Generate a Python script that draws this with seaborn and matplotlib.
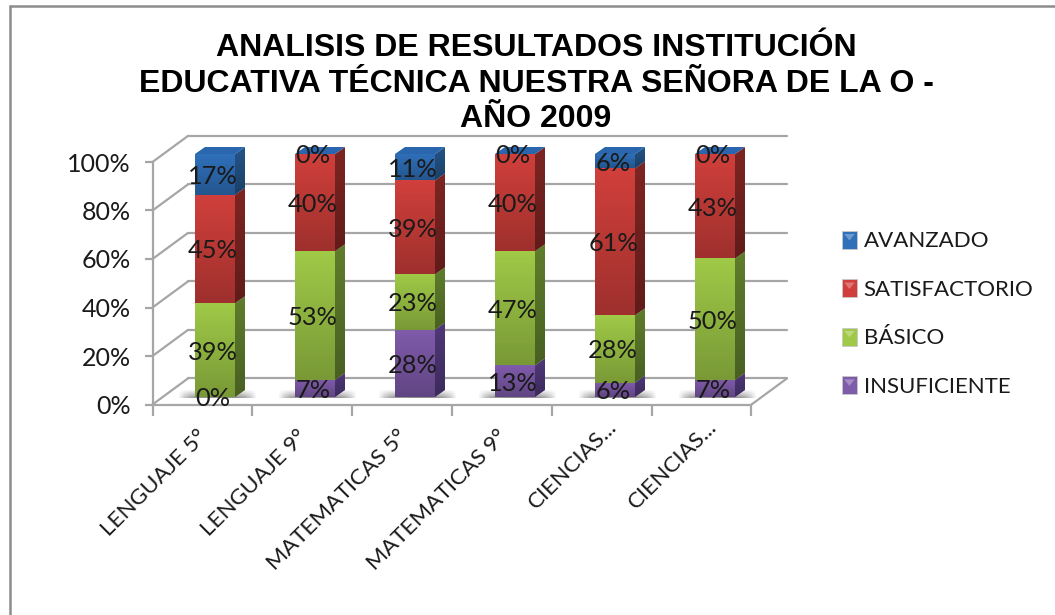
import numpy as np
import matplotlib
matplotlib.use("Agg")
import matplotlib.pyplot as plt
from matplotlib.legend_handler import HandlerPatch
from matplotlib.lines import Line2D
from matplotlib.patches import Patch, Polygon, Rectangle
from matplotlib.transforms import ScaledTranslation
import seaborn as sns

tick_labels = ["LENGUAJE 5°", "LENGUAJE 9°", "MATEMATICAS 5°", "MATEMATICAS 9°", "CIENCIAS...", "CIENCIAS..."]
insuficiente = [0, 7, 28, 13, 6, 7]
basico = [39, 53, 23, 47, 28, 50]
satisfactorio = [45, 40, 39, 40, 61, 43]
avanzado = [17, 0, 11, 0, 6, 0]
y_ticks = [0, 20, 40, 60, 80, 100]

series = [("INSUFICIENTE", insuficiente, "#7f5bab", "#4f3878"),
          ("BÁSICO", basico, "#9fc947", "#5f7d2c"),
          ("SATISFACTORIO", satisfactorio, "#d03f3b", "#7d2522"),
          ("AVANZADO", avanzado, "#2f70ba", "#245487")]

W, H = 1055, 615
GRID = "#a6a6a6"
sns.set_theme(style="white")
plt.rcParams["font.family"] = ["Lato", "DejaVu Sans"]

fig = plt.figure(figsize=(W / 100, H / 100), dpi=100)


def px_axes(x0, x1, ytop, ybot):
    return fig.add_axes([x0 / W, 1 - ybot / H, (x1 - x0) / W, (ybot - ytop) / H])


# front plane of the 3d box: ticks and labels live here
bg = px_axes(152.5, 751.5, 162, 404.5)
bg.set_xlim(-0.5, 5.5)
bg.set_ylim(0, 100)
bg.patch.set_alpha(0)
for s in ["top", "right"]:
    bg.spines[s].set_visible(False)
for s in ["left", "bottom"]:
    bg.spines[s].set_color(GRID)
    bg.spines[s].set_linewidth(1.6)
bg.set_yticks(y_ticks)
bg.set_yticklabels([f"{v}%" for v in y_ticks], fontsize=18, color="#1a1a1a")
bg.set_xticks(np.arange(-0.5, 6, 1))
bg.set_xticklabels([])
bg.set_xticks(range(6), tick_labels, minor=True, rotation=45, ha="right", va="top",
              rotation_mode="anchor", fontsize=16.2, color="#1a1a1a")
bg.tick_params(axis="y", length=6, width=1.6, color=GRID, pad=9.5, left=True)
bg.tick_params(axis="x", which="major", length=8, width=1.6, color=GRID, bottom=True)
bg.tick_params(axis="x", which="minor", length=0, pad=16)
for lab in bg.get_xticklabels(minor=True):
    # the truncated labels sit further up and right in the original
    off = 0.10 if lab.get_text().endswith("...") else 0
    lab.set_transform(lab.get_transform() + ScaledTranslation(-0.05 + off, off, fig.dpi_scale_trans))

# back wall, side wall and floor, depth given in data units of the front plane
wx, wy = 0.355, 26 / 242 * 100
for v in y_ticks:
    bg.plot([-0.5, -0.5 + wx], [v, v + wy], color=GRID, lw=1.6, clip_on=False)
    bg.plot([-0.5 + wx, 5.5 + wx], [v + wy, v + wy], color=GRID, lw=1.6, clip_on=False)
bg.plot([5.5, 5.5 + wx], [0, wy], color=GRID, lw=1.6, clip_on=False)

# plane of the bars, moved a bit into the box, with room above for the top caps
ax = px_axes(165, 765, 154 - 0.05 * 243, 397 + 0.02 * 243)
ax.patch.set_alpha(0)
ax.axis("off")

pos = np.arange(6)
totals = np.sum([s[1] for s in series], axis=0)
bottom = np.zeros(6)
for name, vals, col, side in series:
    h = np.array(vals) / totals
    sns.barplot(x=pos, y=h, bottom=bottom, color=col, saturation=1, width=0.4, ax=ax,
                linewidth=0, label=name, legend=False, zorder=3)
    bottom = bottom + h

dx, dy = 0.10, 7 / 243
fade = np.zeros((64, 1, 4))
fade[:, 0, 3] = np.linspace(0, 0.24, 64)


def shaded(verts, color, zorder=3):
    poly = Polygon(verts, closed=True, fc=color, ec="none", zorder=zorder)
    ax.add_patch(poly)
    xs, ys = zip(*verts)
    im = ax.imshow(fade, extent=[min(xs), max(xs), min(ys), max(ys)], aspect="auto",
                   zorder=zorder + 0.1, origin="upper")
    im.set_clip_path(poly)


# floor shadows
shadow = np.zeros((12, 64, 4))
sx = np.linspace(-1, 1, 64)
sy = np.linspace(0, 1, 12)[:, None]
shadow[:, :, 3] = 0.45 * np.clip(1 - np.abs(sx) ** 4, 0, 1) * sy
for i in pos:
    ax.imshow(shadow, extent=[i - 0.37, i + 0.42, -0.004, 0.03], aspect="auto", zorder=2, origin="upper")

# front gradient, side faces, top cap
for cont, (name, vals, col, side) in zip(ax.containers, series):
    for p in cont.patches:
        x0, y0, x1, y1 = p.get_x(), p.get_y(), p.get_x() + p.get_width(), p.get_y() + p.get_height()
        if y1 - y0 > 0:
            shaded([(x0, y0), (x1, y0), (x1, y1), (x0, y1)], col)
            shaded([(x1, y0), (x1 + dx, y0 + dy), (x1 + dx, y1 + dy), (x1, y1)], side)
for p in ax.containers[-1].patches:
    x0, x1, y1 = p.get_x(), p.get_x() + p.get_width(), p.get_y() + p.get_height()
    ax.add_patch(Polygon([(x0, y1), (x1, y1), (x1 + dx, y1 + dy), (x0 + dx, y1 + dy)],
                         closed=True, fc="#2a66ad", ec="none", zorder=3))

ax.set_xlim(-0.5, 5.5)
ax.set_ylim(-0.02, 1.05)

# value labels
for cont, (name, vals, col, side) in zip(ax.containers, series):
    for p, v in zip(cont.patches, vals):
        ax.text(p.get_x() + p.get_width() / 2 - 0.02, p.get_y() + p.get_height() / 2 - 0.008, f"{v}%",
                ha="center", va="center", fontsize=18.3, color="#1a1a1a", zorder=6, clip_on=False)


class LegendBox(HandlerPatch):
    def create_artists(self, legend, orig, xd, yd, width, height, fontsize, trans):
        box = Rectangle((0, -1), width, height + 2, fc=orig.get_facecolor(), ec="#c8c8c8", lw=0.6, transform=trans)
        tip = Polygon([(width * 0.15, height * 0.88), (width * 0.85, height * 0.88), (width * 0.5, height * 0.45)],
                      closed=True, fc="white", alpha=0.3, ec="none", transform=trans)
        return [box, tip]


handles = [Patch(fc=s[2], label=s[0]) for s in reversed(series)]
fig.legend(handles=handles, handler_map={Patch: LegendBox()}, loc="center left",
           bbox_to_anchor=(842 / W, 1 - 314 / H), frameon=False, fontsize=16,
           handlelength=0.67, handleheight=0.67, handletextpad=0.3, labelspacing=1.28,
           borderpad=0, borderaxespad=0, labelcolor="#1a1a1a")

fig.text(536 / W, 1 - 83.5 / H, "ANALISIS DE RESULTADOS INSTITUCIÓN\nEDUCATIVA TÉCNICA NUESTRA SEÑORA DE LA O -\nAÑO 2009",
         ha="center", va="center", fontsize=23, fontweight="bold", family="Liberation Sans",
         color="black", linespacing=1.22)

# outer chart border, only left and top show in the crop
fig.add_artist(Line2D([9.5 / W, 9.5 / W], [0, 1 - 5.5 / H], color="#8c8c8c", lw=1.8))
fig.add_artist(Line2D([9.5 / W, 1], [1 - 5.5 / H, 1 - 5.5 / H], color="#8c8c8c", lw=1.8))

fig.savefig("out.png", dpi=100)
